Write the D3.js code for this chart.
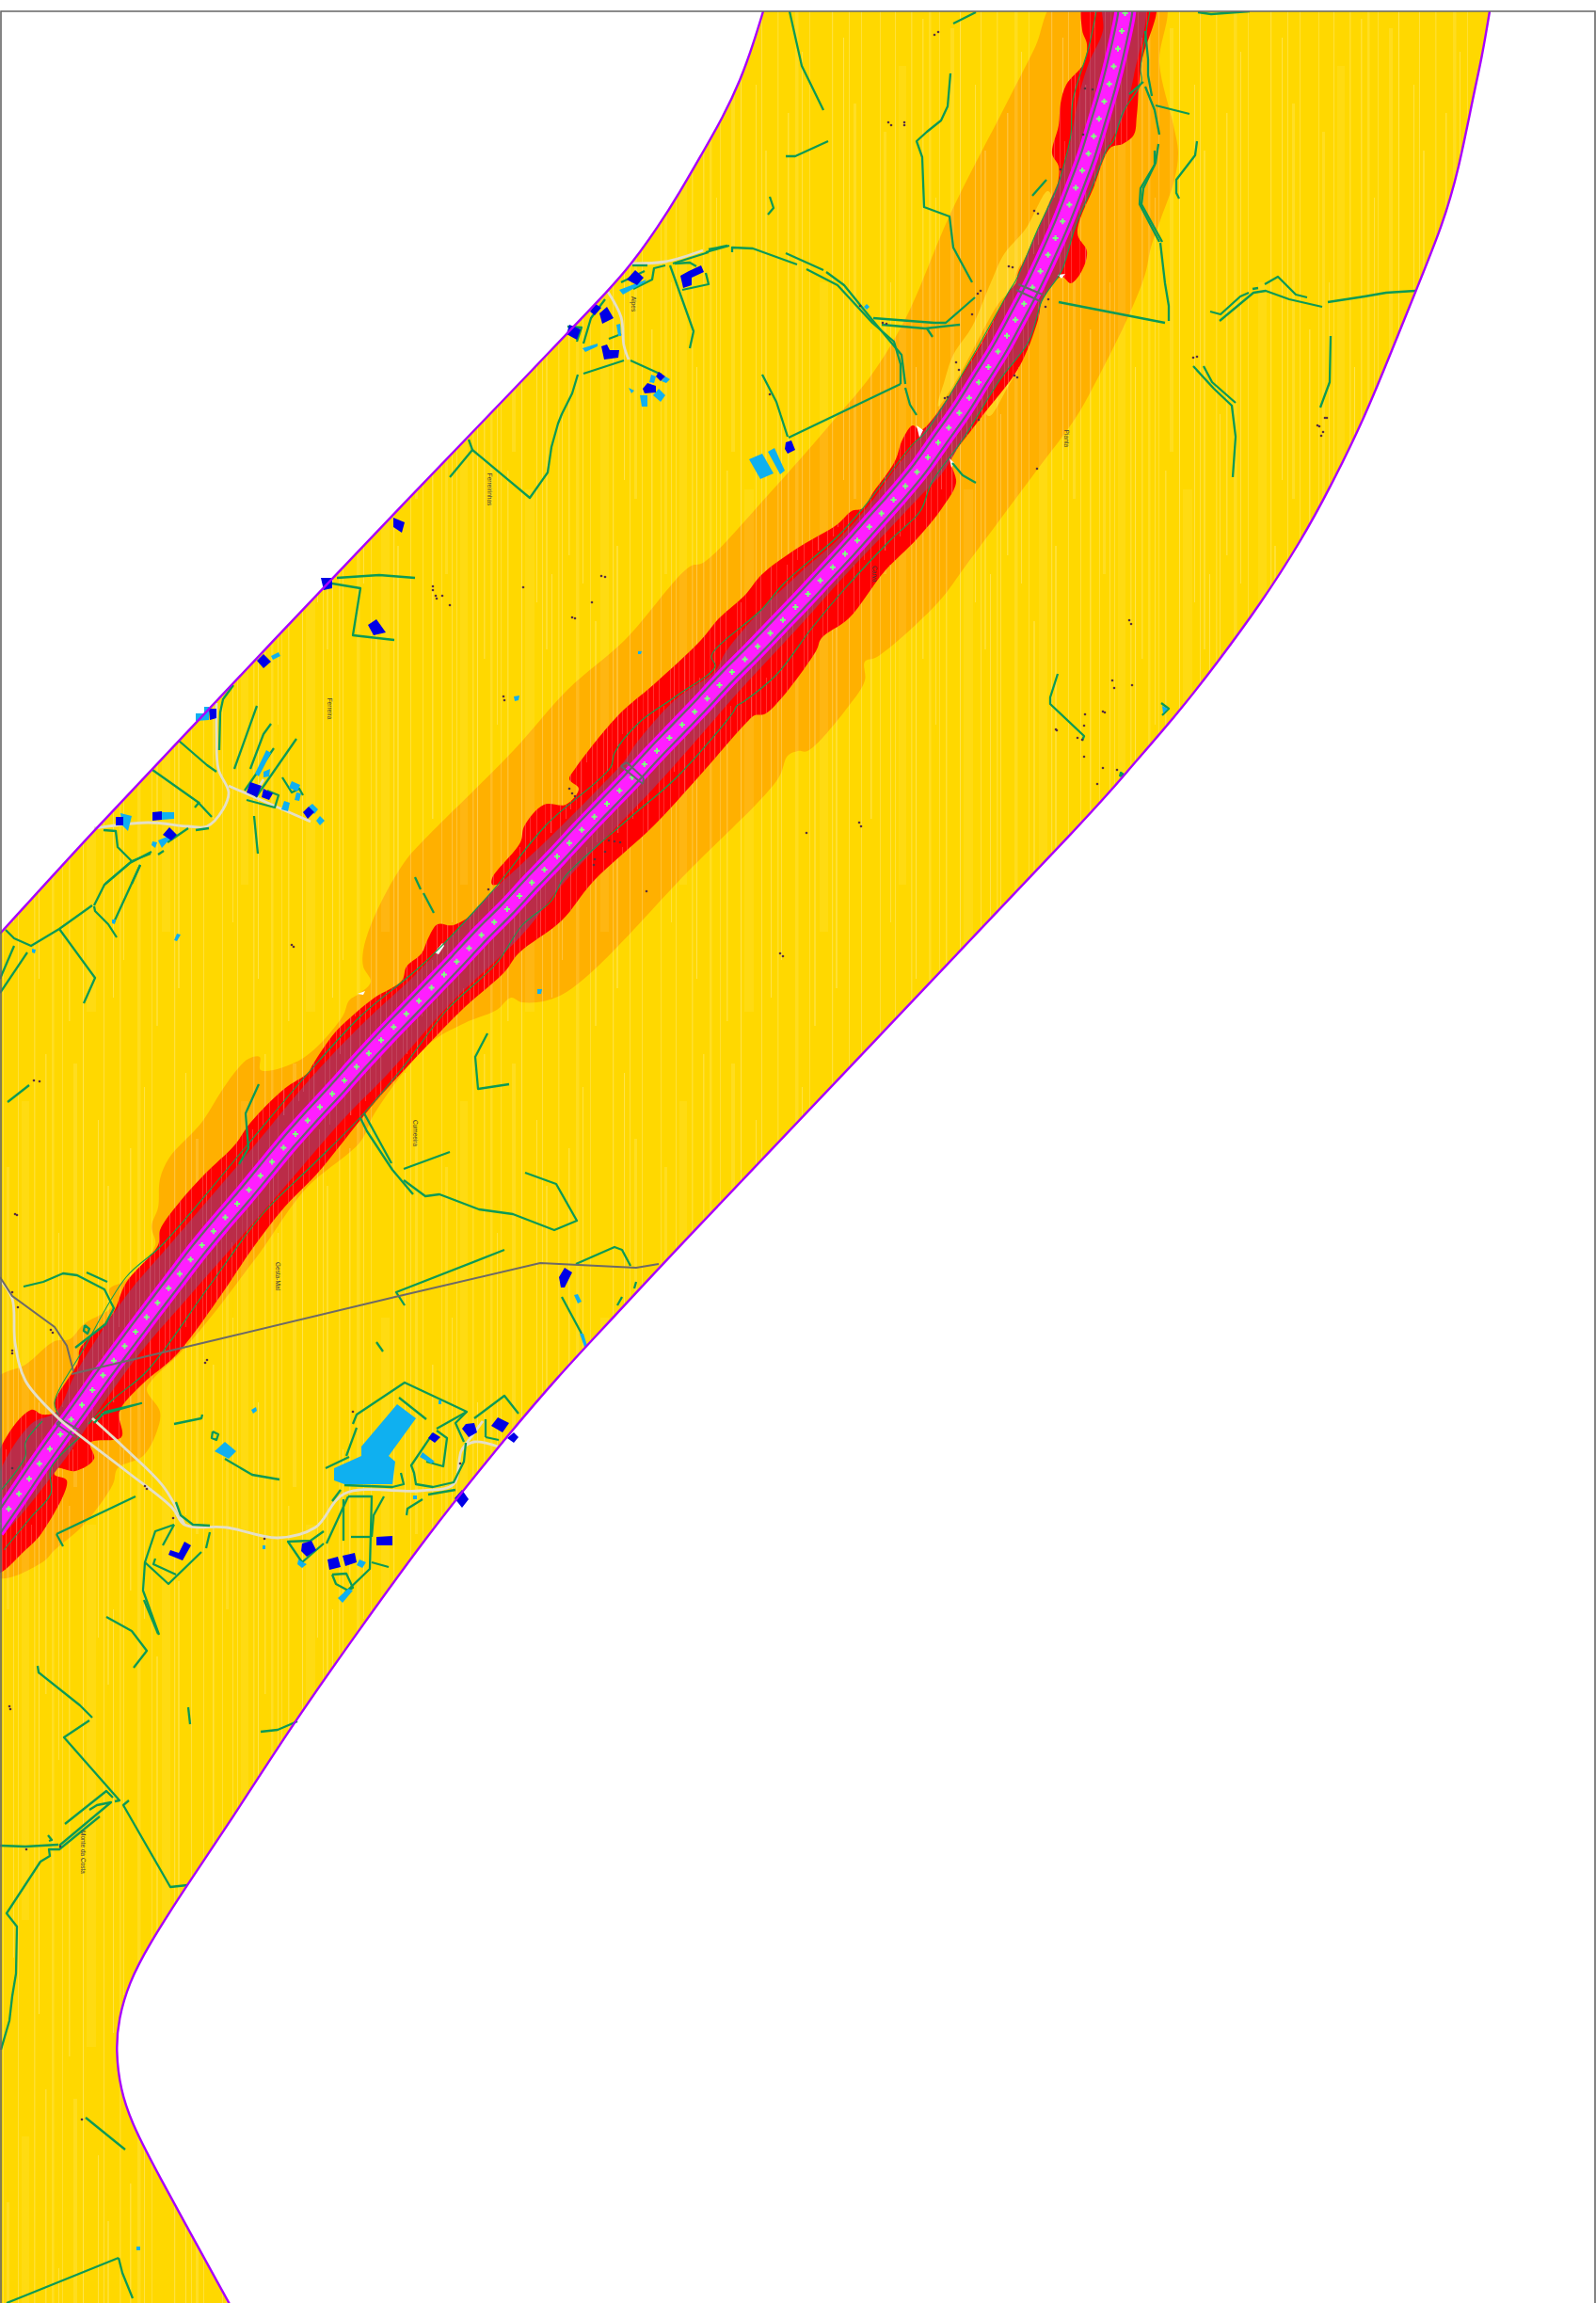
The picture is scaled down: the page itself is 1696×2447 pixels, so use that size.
<!DOCTYPE html>
<html>
<head>
<meta charset="utf-8">
<style>
  html, body { margin: 0; padding: 0; background: #fff; }
  svg { display: block; }
</style>
</head>
<body>
<svg width="1696" height="2447"></svg>
<script src="https://cdn.jsdelivr.net/npm/d3@7"></script>
<script>
// map units are pixels of the source sheet
var upperEdge = [[811,12],[801,45],[787,85],[768,125],[745,165],[722,205],[700,240],[670,282],[647,308],[600,357],[560,399],[511,450],[450,513],[272,700],[200,777],[100,882],[0,992]];
var lowerEdge = [[1583,12],[1575,60],[1566,100],[1550,181],[1533,239],[1505,308],[1480,370],[1450,444],[1413,519],[1383,574],[1340,641],[1293,705],[1250,760],[1193,825],[1173,850],[940,1095],[703,1344],[650,1402],[594,1461],[523,1545],[453,1633],[383,1730],[313,1829],[243,1938],[200,2001],[157,2068],[137,2107],[126,2145],[123,2178],[128,2221],[140,2255],[160,2296],[245,2450]];

var orangeZone = [[1123,0],[1100,50],[1068,113],[1010,227],[963,337],[927,397],[883,450],[817,525],[747,598],[733,602],[664,680],[603,733],[546,797],[450,893],[432,913],[411,947],[394,983],[386,1010],[386,1027],[394,1043],[383,1055],[371,1063],[364,1080],[321,1125],[277,1137],[276,1123],[264,1125],[249,1140],[233,1163],[214,1193],[180,1230],[170,1253],[168,1283],[161,1303],[165,1323],[134,1360],[116,1370],[120,1387],[89,1407],[74,1423],[58,1425],[27,1450],[-5,1467],[-5,1675],[45,1660],[58,1647],[89,1620],[120,1577],[125,1560],[152,1547],[167,1520],[170,1500],[156,1477],[161,1467],[192,1437],[226,1397],[264,1347],[277,1330],[325,1263],[383,1213],[398,1183],[455,1110],[494,1087],[528,1073],[543,1060],[555,1065],[597,1057],[735,922],[827,827],[837,803],[848,798],[858,798],[902,750],[919,723],[919,703],[932,698],[997,640],[1027,600],[1100,502],[1143,444],[1167,401],[1200,334],[1217,291],[1223,263],[1233,234],[1248,191],[1252,162],[1247,133],[1232,67],[1237,0]];
var yellowIslands = [
  [[997,427],[1003,407],[1013,377],[1033,347],[1053,300],[1067,270],[1090,243],[1113,203],[1117,207],[1103,250],[1080,290],[1077,307],[1063,320],[1017,403],[997,432]],
  [[1048,440],[1070,403],[1090,373],[1083,390],[1070,413],[1052,442]]
];
var redZone = [[1153,0],[1150,32],[1155,47],[1152,67],[1133,90],[1127,110],[1125,133],[1118,163],[1125,177],[1123,200],[1110,237],[1082,290],[1080,300],[1072,310],[1047,357],[1017,407],[993,443],[978,457],[970,452],[959,467],[951,490],[928,523],[917,540],[905,543],[890,557],[848,582],[810,610],[791,633],[764,657],[745,680],[695,727],[657,760],[611,817],[605,828],[615,838],[601,855],[578,855],[557,878],[553,895],[523,933],[523,940],[532,940],[513,963],[482,983],[465,982],[455,997],[448,1013],[432,1027],[427,1042],[398,1060],[377,1077],[356,1097],[333,1130],[327,1140],[302,1157],[266,1193],[249,1217],[218,1247],[191,1277],[170,1307],[168,1323],[134,1363],[119,1397],[85,1433],[83,1447],[58,1490],[60,1500],[45,1503],[33,1498],[-5,1552],[-5,1672],[27,1647],[45,1628],[71,1573],[58,1567],[60,1560],[80,1563],[100,1550],[96,1533],[129,1527],[127,1500],[152,1470],[187,1440],[237,1373],[268,1327],[302,1283],[337,1247],[383,1190],[402,1167],[452,1113],[494,1070],[536,1033],[551,1013],[597,978],[630,937],[695,877],[741,827],[794,767],[802,760],[814,758],[867,692],[873,678],[902,657],[940,607],[974,573],[1001,540],[1016,513],[1012,497],[1010,490],[1040,447],[1083,390],[1103,340],[1108,317],[1128,294],[1138,301],[1150,287],[1155,267],[1145,248],[1163,197],[1180,157],[1193,153],[1205,143],[1208,123],[1213,67],[1227,0]];
var darkZone = [[1173,0],[1172,33],[1157,67],[1147,100],[1132,173],[1113,220],[1083,290],[1080,300],[1073,310],[1037,377],[993,443],[973,470],[950,500],[923,537],[894,570],[852,607],[810,647],[771,693],[760,713],[718,743],[676,790],[664,808],[634,840],[584,890],[549,923],[523,947],[444,1033],[383,1090],[329,1147],[268,1220],[180,1323],[134,1377],[80,1460],[60,1500],[33,1513],[-5,1577],[-5,1633],[67,1553],[85,1527],[147,1440],[196,1383],[245,1327],[306,1257],[364,1190],[413,1140],[478,1067],[555,993],[600,937],[695,837],[737,790],[783,737],[848,667],[902,607],[947,560],[978,527],[1001,503],[1023,467],[1063,403],[1093,363],[1107,320],[1128,288],[1143,240],[1160,200],[1177,157],[1193,125],[1205,80],[1215,0]];
var gaps = [[[974,452],[981,457],[977,465]],[[1009,487],[1014,492],[1011,497]],[[1124,292],[1132,291],[1128,296]],[[380,1056],[388,1053],[386,1057]],[[462,1012],[470,1002],[472,1005],[466,1014]]];

var roadAxis = [[1197,0],[1195,18],[1187,56],[1178,92],[1167,129],[1156,165],[1143,200],[1129,236],[1114,270],[1098,304],[1080,338],[1062,371],[1042,403],[1022,435],[1000,466],[978,497],[954,526],[929,554],[904,582],[878,610],[852,638],[826,665],[800,692],[773,719],[747,747],[721,774],[695,801],[669,829],[643,856],[617,883],[591,911],[565,938],[539,966],[512,993],[486,1021],[460,1048],[434,1075],[408,1102],[382,1130],[357,1158],[331,1186],[306,1214],[282,1243],[258,1272],[233,1301],[209,1330],[186,1360],[163,1390],[129,1435],[106,1466],[84,1497],[62,1527],[40,1558],[19,1589],[8,1605],[-6,1625]];
var contourLines = [
  [[1165,12],[1157,50],[1140,107],[1138,143],[1132,170],[1123,200],[1103,243],[1080,297],[1072,310],[1027,390],[983,460],[970,472],[917,540],[890,570],[833,620],[810,647],[756,697],[760,708],[718,740],[680,767],[653,800],[649,815],[580,877],[523,947],[451,1023],[383,1080],[325,1143],[260,1220],[172,1323],[134,1357],[89,1433],[58,1490],[62,1503]],
  [[1222,12],[1218,33],[1212,73],[1213,87],[1193,120],[1183,150],[1177,157],[1160,200],[1143,240],[1128,288],[1113,310],[1107,320],[1093,363],[1063,403],[1023,467],[990,513],[978,543],[947,573],[900,623],[863,667],[825,717],[791,745],[783,750],[779,757],[718,827],[668,870],[599,933],[586,957],[555,983],[528,1023],[475,1073],[429,1133],[383,1187],[333,1237],[279,1290],[222,1367],[156,1457],[120,1487],[94,1513]],
  [[45,1510],[27,1533],[27,1547],[-2,1587]],
  [[85,1527],[54,1560],[54,1587],[33,1612],[4,1647]]
];
var crossings = [
  [[1082,302],[1108,313]],[[1080,308],[1105,320]],
  [[660,814],[683,833]],[[666,810],[684,827]],[[660,814],[666,810]],[[683,833],[684,827]],
  [[65,1508],[85,1520]],[[60,1513],[80,1527]],[[65,1508],[60,1513]]
];

var greenLines = [
  [[839,12],[852,70],[875,117]],[[1013,25],[1037,13]],[[1273,13],[1287,15],[1328,12]],[[835,166],[845,166],[880,150]],
  [[1010,78],[1007,113],[1000,128],[985,140],[974,150],[980,167],[982,220],[1009,230],[1013,263],[1033,300]],
  [[818,209],[822,221],[816,228]],
  [[750,268],[775,261]],[[778,268],[778,263],[800,264],[847,281]],[[835,269],[875,287]],
  [[857,286],[890,303],[927,343],[950,363],[957,387],[957,408]],[[878,289],[897,303],[927,340],[958,377],[962,408]],
  [[928,338],[993,343],[1005,343],[1020,330],[1036,316]],[[937,345],[983,349],[1020,345]],[[985,349],[991,358]],
  [[957,408],[838,465]],[[810,398],[825,427],[837,464]],[[962,412],[967,430],[974,441]],[[1097,208],[1112,191]],
  [[1012,492],[1023,505],[1037,513]],[[1125,321],[1238,343]],[[1242,341],[1242,325],[1238,301],[1233,258]],
  [[1217,33],[1220,63],[1220,80],[1224,102]],[[1217,92],[1227,117],[1232,143]],
  [[1231,153],[1228,173],[1215,200],[1213,217],[1235,257]],[[1227,160],[1227,175],[1212,200],[1211,217],[1232,257]],
  [[1228,112],[1264,121]],[[1272,150],[1270,165],[1250,191],[1250,205],[1253,211]],[[1200,100],[1215,87]],
  [[1286,331],[1297,334],[1318,315],[1327,311]],[[1296,341],[1332,311],[1345,309],[1370,318],[1405,326]],[[1331,307],[1337,306]],
  [[1344,302],[1358,294],[1377,313],[1389,316]],[[1411,321],[1450,315],[1473,311],[1504,309]],
  [[1268,389],[1290,413],[1309,431],[1313,464],[1310,507]],[[1279,389],[1288,406],[1313,428]],[[1414,357],[1413,406],[1403,433]],
  [[1124,716],[1116,741],[1116,748],[1152,782],[1150,787]],
  [[715,280],[753,268]],[[753,265],[773,261]],[[712,282],[737,352],[733,370]],[[717,280],[733,279],[740,283]],[[725,308],[753,302],[750,290]],
  [[614,398],[608,418],[597,440],[593,450],[586,475],[582,502],[563,529],[502,478],[498,467]],[[502,478],[478,507]],
  [[670,383],[703,398]],[[620,397],[663,383]],[[620,365],[628,338],[643,318]],[[603,347],[618,348],[613,363]],[[647,360],[660,355]],
  [[660,300],[685,288]],[[673,307],[693,297],[695,285],[707,282]],[[672,282],[688,282]],
  [[358,614],[403,611],[441,614]],[[347,619],[383,625],[375,675],[419,680]],
  [[248,728],[237,743],[234,757],[233,797]],[[273,750],[249,817]],[[288,769],[280,780],[266,817]],[[315,785],[272,847]],[[291,795],[260,840]],
  [[190,787],[220,813],[230,820]],[[162,818],[210,852],[225,868]],[[207,858],[212,852]],[[270,867],[274,907]],
  [[110,882],[123,883],[125,900],[140,915],[160,907]],[[140,915],[112,939]],[[149,919],[140,939]],[[200,880],[178,895]],[[208,882],[222,880]],[[168,908],[174,904]],
  [[300,826],[310,842],[318,838],[322,845]],[[284,840],[296,845],[292,858],[262,850]],
  [[6,988],[15,997],[33,1005],[63,987],[98,962]],[[100,962],[111,940],[138,917],[161,905]],[[100,963],[101,968],[115,982],[124,996]],[[149,919],[121,980]],
  [[63,987],[101,1039],[89,1066]],[[15,1005],[0,1040]],[[29,1012],[0,1055]],[[31,1153],[8,1171]],
  [[441,932],[447,945]],[[450,949],[461,970]],[[275,1152],[261,1183],[264,1220],[254,1237]],[[518,1098],[505,1123],[508,1157],[541,1152]],
  [[478,1224],[429,1242]],[[387,1183],[416,1236]],[[383,1188],[390,1202],[417,1243],[439,1269]],
  [[429,1254],[452,1271],[467,1269],[509,1285],[545,1290],[589,1307],[613,1297],[591,1258],[558,1246]],
  [[536,1328],[421,1373],[430,1387]],[[25,1367],[46,1362],[67,1353],[82,1355],[111,1370],[121,1390],[112,1407],[80,1432]],[[92,1352],[114,1362]],
  [[612,1343],[653,1325],[661,1328],[670,1345]],[[597,1378],[618,1417]],[[661,1378],[656,1387]],[[676,1362],[674,1369]],[[400,1426],[407,1436]],
  [[107,1503],[150,1491],[112,1500],[100,1512]],[[185,1513],[214,1507],[215,1503]],[[239,1550],[268,1567],[297,1572]],
  [[60,1630],[144,1590]],[[60,1630],[67,1643]],
  [[375,1513],[379,1503],[430,1469],[496,1500],[464,1518]],[[424,1485],[453,1508]],[[379,1517],[368,1547]],[[371,1548],[346,1560]],
  [[496,1500],[484,1512],[493,1532]],[[464,1520],[475,1528],[471,1558],[453,1553]],[[460,1523],[437,1557],[440,1565],[442,1577],[460,1580],[482,1575],[493,1553],[495,1533]],
  [[426,1565],[429,1577],[417,1580],[366,1578]],[[504,1507],[536,1483],[551,1502]],[[516,1527],[530,1530]],[[516,1508],[516,1527]],
  [[362,1583],[353,1595]],[[408,1590],[397,1610],[395,1633]],[[370,1590],[395,1590],[393,1667],[366,1693]],[[365,1593],[365,1637]],[[373,1633],[393,1633]],[[395,1660],[413,1665]],
  [[370,1590],[347,1640]],[[344,1627],[330,1637],[306,1638],[321,1660],[344,1640]],[[449,1593],[433,1603],[432,1610]],[[455,1588],[484,1583]],
  [[353,1673],[357,1683],[370,1690],[375,1687],[368,1672],[353,1673]],
  [[185,1620],[165,1627],[154,1660],[152,1690],[169,1737]],[[185,1620],[173,1642]],[[154,1660],[179,1683],[214,1649]],[[165,1656],[163,1662],[187,1673]],
  [[223,1628],[219,1645]],[[187,1596],[192,1610],[205,1620],[223,1621]],
  [[153,1700],[168,1736]],[[113,1718],[140,1733],[156,1754],[142,1772]],[[40,1770],[41,1777],[85,1812],[98,1825]],[[95,1828],[68,1846],[127,1913],[122,1914]],
  [[200,1814],[202,1832]],[[277,1840],[295,1838],[316,1829]],[[137,1913],[131,1918],[181,2005],[199,2003]],[[69,1938],[113,1903],[120,1910]],
  [[95,1923],[103,1918],[118,1915],[63,1961]],[[106,1930],[63,1965],[52,1965],[53,1972],[43,1978],[7,2033],[18,2047],[17,2097],[13,2121],[10,2147],[1,2178]],
  [[0,1961],[27,1962],[62,1960]],[[51,1950],[55,1955],[52,1956]],[[91,2250],[133,2284]],[[126,2399],[130,2415],[141,2442]],[[126,2399],[27,2439],[7,2447]],
  [[226,1521],[232,1524],[230,1530],[225,1528],[226,1521]],[[90,1408],[95,1412],[93,1417],[89,1414],[90,1408]],
  [[1234,747],[1242,753],[1235,760]],[[1190,825],[1194,823],[1191,821],[1190,825]]
];
var pavedRoads = [
  [[0,1360],[13,1380],[16,1427],[27,1467],[58,1503],[69,1513],[134,1563],[183,1602],[196,1620],[241,1623],[295,1634],[335,1623],[366,1587],[446,1584],[482,1577],[491,1540],[504,1532],[529,1537]],
  [[98,1507],[134,1540],[174,1580],[196,1620]],[[491,1540],[513,1510]],
  [[100,880],[157,874],[200,878],[220,878],[237,860],[243,842],[232,817],[230,780],[230,747]],[[243,835],[330,873]],[[272,842],[280,828]],
  [[670,280],[707,278],[747,266]],[[646,310],[660,337],[663,367],[668,382]]
];
var powerLines = [
  [[700,1343],[676,1347],[574,1342],[420,1378],[232,1423],[76,1460]],
  [[0,1357],[13,1377],[58,1410],[71,1430],[78,1457]]
];
var blueHouses = [
  [[600,1347],[608,1352],[600,1368],[596,1368],[594,1357]],[[529,1506],[541,1512],[534,1522],[522,1515]],[[495,1513],[504,1512],[507,1522],[498,1527],[491,1518]],
  [[460,1522],[468,1527],[462,1533],[455,1528]],[[546,1522],[551,1527],[546,1533],[539,1528]],[[491,1583],[498,1593],[491,1602],[483,1592]],
  [[400,1633],[417,1632],[417,1642],[400,1642]],[[321,1640],[331,1637],[336,1647],[326,1654],[320,1648]],[[348,1657],[359,1654],[362,1665],[350,1668]],
  [[364,1653],[377,1650],[379,1660],[367,1664]],[[196,1638],[203,1642],[194,1658],[179,1652],[181,1647],[190,1650]],
  [[675,287],[684,295],[677,303],[666,297]],[[723,293],[732,288],[745,282],[748,289],[735,295],[735,303],[726,306]],[[633,323],[639,327],[632,335],[627,331]],
  [[645,326],[652,338],[640,344],[637,333]],[[605,345],[617,350],[613,361],[602,355]],[[645,366],[648,372],[658,372],[657,380],[642,382],[639,368]],
  [[700,395],[707,400],[702,405],[697,400]],[[688,407],[697,410],[697,417],[685,418],[683,413]],
  [[222,753],[230,753],[230,763],[223,765]],[[266,831],[278,835],[273,847],[262,842]],[[280,838],[290,843],[286,850],[278,847]],[[328,857],[334,863],[327,870],[322,863]],
  [[123,868],[131,868],[131,877],[123,877]],[[162,863],[172,862],[172,871],[162,872]],[[180,879],[188,887],[182,893],[173,887]],
  [[273,702],[280,710],[288,703],[280,695]],[[418,550],[430,555],[427,566],[418,560]],[[391,664],[400,658],[410,672],[397,675]],[[341,614],[353,614],[353,625],[344,627]],
  [[835,470],[841,468],[845,478],[837,482],[834,477]]
];
var cyanHouses = [
  [[422,1492],[442,1507],[413,1547],[420,1553],[417,1577],[366,1577],[355,1573],[355,1560],[384,1547],[384,1537]],
  [[239,1532],[251,1542],[243,1550],[228,1542]],[[449,1543],[462,1553],[458,1555],[446,1548]],[[382,1657],[389,1660],[385,1666],[379,1663]],
  [[375,1690],[364,1703],[359,1698],[370,1688]],[[317,1657],[326,1662],[321,1666],[316,1662]],[[610,1376],[614,1375],[618,1383],[614,1385]],[[616,1417],[620,1417],[624,1430],[621,1431]],
  [[658,308],[687,297],[685,300],[662,313]],[[619,370],[635,365],[635,368],[622,374]],[[655,345],[659,344],[660,357],[657,357]],
  [[692,398],[697,400],[695,407],[690,406]],[[707,400],[712,403],[708,407],[703,405]],[[700,413],[707,420],[702,427],[694,420]],[[680,420],[688,420],[688,432],[682,432]],[[668,412],[674,415],[671,418]],
  [[283,797],[288,800],[275,825],[271,822]],[[310,830],[319,834],[316,841],[307,837]],[[315,842],[320,843],[318,851],[313,850]],[[302,851],[308,853],[306,862],[299,860]],
  [[332,854],[338,860],[334,865],[328,857]],[[340,867],[345,872],[340,877],[336,872]],[[208,758],[222,758],[222,765],[208,766]],[[217,751],[222,751],[222,758],[217,758]],[[280,820],[287,817],[286,825],[280,826]],
  [[128,864],[140,867],[136,883],[130,877]],[[172,863],[185,863],[185,870],[172,871]],[[162,894],[167,895],[165,901],[161,898]],[[168,893],[182,887],[180,892],[172,901]],
  [[288,697],[296,693],[298,697],[290,701]],
  [[796,488],[810,482],[822,503],[808,509]],[[816,480],[823,476],[834,500],[829,504]],
  [[185,999],[188,992],[192,993],[188,1000]],[[119,977],[123,977],[122,982],[119,981]],[[34,1008],[38,1009],[37,1013],[34,1012]],[[571,1051],[576,1051],[575,1056],[571,1056]],
  [[678,692],[682,692],[681,695],[678,695]],[[546,740],[552,739],[551,744],[547,745]],[[918,326],[921,323],[924,326],[921,329]],[[267,1498],[272,1495],[273,1499],[269,1502]],
  [[145,2387],[149,2387],[149,2391],[145,2391]],[[279,1642],[282,1642],[282,1646],[279,1646]],[[466,1488],[469,1488],[469,1492],[466,1492]],[[439,1589],[443,1589],[443,1593],[439,1593]],
  [[1235,750],[1241,753],[1236,758]]
];
var spots = [
  [1099,224],[1103,227],[1072,283],[1076,284],[1042,309],[1039,312],[1033,334],[1016,385],[1019,393],[1004,423],[1007,422],[1078,399],[1081,401],[1040,446],[1102,498],[1114,318],[1111,326],[818,419],[914,325],[942,344],[938,343],[1127,180],[1153,94],[1161,95],[1151,143],
  [639,612],[643,613],[460,623],[460,627],[463,633],[464,636],[470,633],[478,643],[556,624],[629,640],[608,656],[611,657],[535,740],[536,744],[913,874],[915,878],[857,885],[605,838],[608,843],[611,846],[647,893],[653,894],[659,895],[643,905],[632,913],[631,919],[687,947],[519,945],
  [310,1004],[312,1006],[36,1148],[42,1149],[16,1290],[18,1291],[13,1373],[19,1389],[54,1413],[56,1416],[13,1435],[13,1438],[220,1445],[218,1448],[375,1500],[154,1579],[156,1582],[184,1613],[281,1635],[489,1555],[13,1560],
  [10,1813],[11,1816],[28,1965],[64,1962],[87,2252],[993,37],[997,34],[944,130],[947,133],[961,130],[961,133],[829,1013],[832,1016],
  [1268,380],[1272,379],[1410,444],[1408,444],[1400,452],[1402,453],[1404,463],[1406,459],[1200,659],[1202,663],[1182,723],[1184,731],[1203,728],[1172,756],[1174,757],[1153,759],[1152,771],[1122,775],[1123,776],[1145,784],[1150,786],[1152,804],[1172,816],[1187,818],[1166,833]
];
var placeNames = ["Alpes", "Ferreirinhas", "Ferreira", "Cumeeira", "Gesta-Mal", "Monte da Costa", "Carva", "Pianta"];
var nameSpots = [[673,323],[520,520],[350,753],[441,1204],[295,1356],[88,1968],[929,610],[1133,466]];

// vertical survey hatch: x, from, to, width, strength
var wideHatch = [[3,0,1100,1,.2],[7,140,610,3,.13],[14,300,980,1,.24],[19,0,1100,.8,.28],[23,70,940,8,.07],[36,0,1100,1.5,.18],[41,390,1040,1,.3],[48,20,700,1.5,.2],[55,0,1100,2.5,.14],[62,210,770,1,.24],[66,0,1100,.8,.24],[73,500,1085,1.5,.2],[78,30,480,4,.12],[88,0,1100,1,.3],[92,520,1075,10,.07],[104,90,640,1,.26],[110,0,1100,.8,.3],[114,160,690,2,.18],[120,610,1060,1,.28],[127,0,1100,1.5,.16],[131,440,1020,.8,.3],[138,120,590,1.5,.22],[146,0,1100,3.5,.12],[153,55,620,1,.26],[161,0,1100,.8,.24],[166,660,1090,2,.18],[172,300,990,9,.07],[185,0,1100,1.2,.24],[189,580,1050,2,.2],[197,40,510,1,.28],[203,0,1100,.8,.28],[208,110,530,3,.14],[216,0,1100,1,.22],[226,350,870,1.5,.24]];
var fineHatch = [[2,0,300,.6,.3],[6,40,220,1,.24],[11,0,300,.6,.2],[17,90,285,1.2,.28],[22,0,180,.7,.24],[27,0,300,.6,.32],[33,120,270,1,.2],[38,0,260,.8,.28],[44,0,300,.6,.2],[49,60,290,1.2,.24],[55,0,210,.7,.28],[61,0,300,.8,.24],[66,150,295,.6,.28]];

var width = 1696, height = 2447;
var x = d3.scaleLinear().domain([0, 1696]).range([0, width]),
  y = d3.scaleLinear().domain([0, 2447]).range([0, height]);

var svg = d3.select("svg"),
  defs = svg.append("defs");

var line = d3.line().x(function (d) { return x(d[0]); }).y(function (d) { return y(d[1]); });
var smooth = d3.line().x(function (d) { return x(d[0]); }).y(function (d) { return y(d[1]); }).curve(d3.curveCatmullRom.alpha(0.5));
var edge = d3.line().x(function (d) { return x(d[0]); }).y(function (d) { return y(d[1]); }).curve(d3.curveBasis);
var band = d3.line().x(function (d) { return x(d[0]); }).y(function (d) { return y(d[1]); }).curve(d3.curveCatmullRomClosed.alpha(0.5));

function hatchPattern(id, tileW, tileH, stripes) {
  var p = defs.append("pattern").attr("id", id).attr("patternUnits", "userSpaceOnUse")
    .attr("width", tileW).attr("height", tileH);
  p.selectAll("rect").data(stripes).enter().append("rect")
    .attr("x", function (d) { return d[0]; })
    .attr("y", function (d) { return d[1]; })
    .attr("height", function (d) { return d[2] - d[1]; })
    .attr("width", function (d) { return d[3]; })
    .attr("fill", "#fff")
    .attr("fill-opacity", function (d) { return d[4]; });
}
hatchPattern("wide", 233, 1100, wideHatch);
hatchPattern("fine", 71, 300, fineHatch);

defs.append("clipPath").attr("id", "corridor").append("path")
  .attr("d", edge(upperEdge) + "L" + x(0) + "," + y(2450) + edge(lowerEdge.slice().reverse()).replace(/^M/, "L") + "Z");
defs.append("clipPath").attr("id", "sheet").append("rect")
  .attr("x", x(0)).attr("y", y(12)).attr("width", width).attr("height", height);

var map = svg.append("g").attr("clip-path", "url(#sheet)");
var fills = map.append("g").attr("clip-path", "url(#corridor)");

fills.append("rect").attr("width", width).attr("height", height).attr("fill", "#ffd800");
fills.append("path").attr("d", band(orangeZone)).attr("fill", "#ffb000");
fills.selectAll(".island").data(yellowIslands).enter().append("path").attr("class", "island")
  .attr("d", band).attr("fill", "#ffd21e");
fills.append("rect").attr("width", width).attr("height", height).attr("fill", "url(#wide)");

fills.append("path").attr("d", band(redZone)).attr("fill", "#ff0000");
fills.append("path").attr("d", band(redZone)).attr("fill", "url(#fine)");
fills.append("path").attr("d", band(darkZone)).attr("fill", "#bb2c48");
fills.append("path").attr("d", band(darkZone)).attr("fill", "url(#fine)").attr("opacity", 0.6);
fills.selectAll(".gap").data(gaps).enter().append("path").attr("class", "gap")
  .attr("d", function (d) { return line(d) + "Z"; }).attr("fill", "#fff");

// carriageway: stacked strokes leave the two grey edge lines
var axisPath = smooth(roadAxis);
[[23, "#ff00ff"], [17, "#666666"], [12.6, "#ff1eff"]].forEach(function (s) {
  fills.append("path").attr("d", axisPath).attr("fill", "none").attr("stroke", s[1]).attr("stroke-width", s[0]);
});
var axisNode = fills.append("path").attr("d", axisPath).attr("fill", "none").node();
var axisLen = axisNode.getTotalLength(), axisMarks = [];
for (var l = 14; l < axisLen; l += 19.3) axisMarks.push(axisNode.getPointAtLength(l));
fills.selectAll(".mark").data(axisMarks).enter().append("path").attr("class", "mark")
  .attr("d", d3.symbol().type(d3.symbolCross).size(20))
  .attr("transform", function (d) { return "translate(" + d.x + "," + d.y + ")"; })
  .attr("fill", "#80ff80");

fills.selectAll(".crossing").data(crossings).enter().append("path").attr("class", "crossing")
  .attr("d", line).attr("fill", "none").attr("stroke", "#666").attr("stroke-width", 2);
fills.selectAll(".contour").data(contourLines).enter().append("path").attr("class", "contour")
  .attr("d", smooth).attr("fill", "none").attr("stroke", "#12a050").attr("stroke-width", 1.1);

map.selectAll(".paved").data(pavedRoads).enter().append("path").attr("class", "paved")
  .attr("d", smooth).attr("fill", "none").attr("stroke", "#e4dfc8").attr("stroke-width", 2.8);
map.selectAll(".green").data(greenLines).enter().append("path").attr("class", "green")
  .attr("d", line).attr("fill", "none").attr("stroke", "#0b9a56").attr("stroke-width", 2.3)
  .attr("stroke-linejoin", "round");
map.selectAll(".power").data(powerLines).enter().append("path").attr("class", "power")
  .attr("d", line).attr("fill", "none").attr("stroke", "#6e6a66").attr("stroke-width", 2);

map.selectAll(".cyan").data(cyanHouses).enter().append("path").attr("class", "cyan")
  .attr("d", function (d) { return line(d) + "Z"; }).attr("fill", "#0fb0f0");
map.selectAll(".blue").data(blueHouses).enter().append("path").attr("class", "blue")
  .attr("d", function (d) { return line(d) + "Z"; }).attr("fill", "#0000e6");
map.selectAll(".spot").data(spots).enter().append("circle").attr("class", "spot")
  .attr("cx", function (d) { return x(d[0]); }).attr("cy", function (d) { return y(d[1]); })
  .attr("r", 1.3).attr("fill", "#5a3040");

map.selectAll(".name").data(placeNames).enter().append("text").attr("class", "name")
  .attr("transform", function (d, i) { return "translate(" + x(nameSpots[i][0]) + "," + y(nameSpots[i][1]) + ")rotate(90)"; })
  .attr("text-anchor", "middle").attr("dy", "0.35em")
  .attr("font-family", "'Liberation Sans', sans-serif").attr("font-size", 6.5).attr("fill", "#3a3a3a")
  .text(function (d) { return d; });

map.append("path").attr("d", edge(upperEdge)).attr("fill", "none").attr("stroke", "#a800ff").attr("stroke-width", 2.4);
map.append("path").attr("d", edge(lowerEdge)).attr("fill", "none").attr("stroke", "#a800ff").attr("stroke-width", 2.4);

// sheet frame
svg.append("path").attr("d", "M" + x(1) + "," + y(2447) + "V" + y(12) + "H" + x(1695) + "V" + y(2447))
  .attr("fill", "none").attr("stroke", "#666").attr("stroke-width", 1.6);
</script>
</body>
</html>
